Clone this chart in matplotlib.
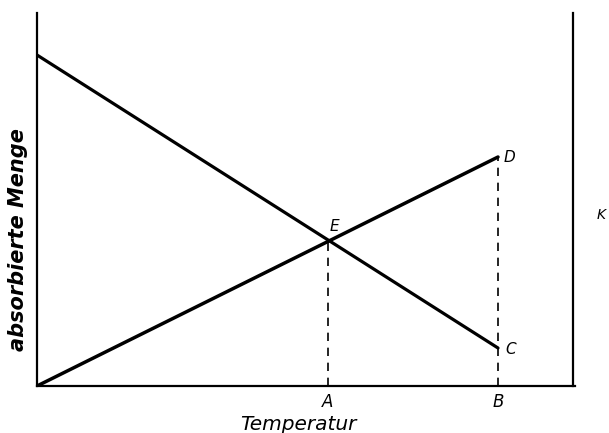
import matplotlib
matplotlib.use("Agg")
import matplotlib.pyplot as plt

# schematic: adsorbed amount vs temperature (units = arbitrary)
temp_ends = [0, 461]
falling = [331, 38]     # left end -> C
rising = [0, 229]       # origin -> D
temp_A = 291
temp_B = 461
E_val = 146
C_val = 38
D_val = 229
tick_labels = ["A", "B"]

fig = plt.figure(figsize=(6.09, 4.33), dpi=100)
ax = fig.add_axes([37 / 609, 47 / 433, 538 / 609, 373 / 433])

ax.plot(temp_ends, falling, color="black", lw=2.3, solid_capstyle="round")
ax.plot(temp_ends, rising, color="black", lw=2.5, solid_capstyle="round")
ax.plot([temp_A, temp_A], [0, E_val], color="black", lw=1.2, ls=(0, (5, 4)))
ax.plot([temp_B, temp_B], [0, D_val], color="black", lw=1.2, ls=(0, (5, 4)))

ax.set_xlim(0, 538)
ax.set_ylim(0, 373)
ax.spines["top"].set_visible(False)
for s in ["left", "bottom", "right"]:
    ax.spines[s].set_linewidth(1.6)
ax.spines["right"].set_position(("data", 536))

ax.set_xticks([temp_A, temp_B])
ax.set_xticklabels(tick_labels, fontsize=12, style="italic")
ax.tick_params(axis="x", length=0, pad=5)
ax.set_yticks([])

ax.set_xlabel("Temperatur", fontsize=14.5, style="italic")
ax.xaxis.set_label_coords((298 - 37) / 538, -39 / 373)
ax.xaxis.label.set_va("center")
ax.set_ylabel("absorbierte Menge", fontsize=15, style="italic", fontweight="bold")
ax.yaxis.set_label_coords(-19 / 538, (386 - 240) / 373)
ax.yaxis.label.set_va("center")

ax.text(temp_A + 2, E_val + 6, "E", fontsize=11, style="italic", ha="left", va="bottom")
ax.text(temp_B + 6, D_val, "D", fontsize=11, style="italic", ha="left", va="center")
ax.text(temp_B + 7, C_val - 2, "C", fontsize=11, style="italic", ha="left", va="center")

# letter at the right edge of the scan
fig.text(597 / 609, 1 - 215 / 433, "K", fontsize=10, style="italic", ha="left", va="center")

plt.savefig("out.png")
